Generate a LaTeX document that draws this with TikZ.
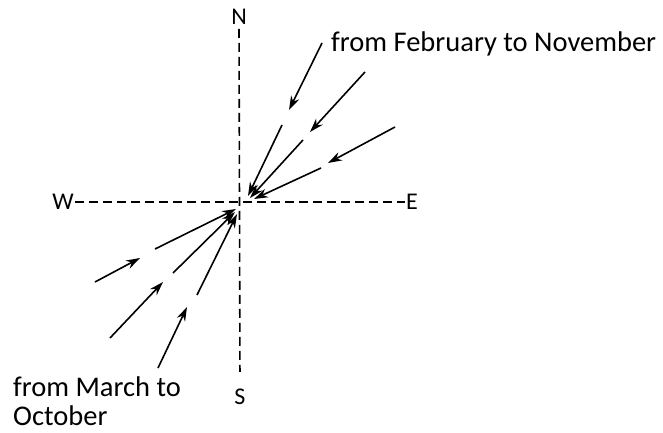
\documentclass[tikz,border=0pt]{standalone}
\usepackage{fontspec}
\setmainfont{Carlito}
\usetikzlibrary{arrows.meta}
\begin{document}
\begin{tikzpicture}[x=1pt,y=-1pt,
 compass/.style={font=\fontsize{24}{28}\selectfont, inner sep=1pt},
 lbl/.style={font=\fontsize{28.5}{29}\selectfont, inner sep=0pt, anchor=west, align=left},
 axis/.style={dash pattern=on 9pt off 5pt, line width=1.6pt},
 wind/.style={-{Stealth[length=14pt,width=9pt]}, line width=1.6pt}]
\useasboundingbox (0,0) rectangle (663,433);
% compass labels
\node[compass] (N) at (239,17) {N};
\node[compass] (S) at (240,397) {S};
\node[compass] (W) at (63,202) {W};
\node[compass] (E) at (412,202) {E};
% axes
\draw[axis, shorten <=3pt, shorten >=16pt] (N.south) -- (S.north);
\draw[axis] (W.east) -- (E.west);
% text labels
\node[lbl] (feb) at (331,44) {from February to November};
\node[lbl] (mar) at (13,401) {from March to\\October};
% upper right arrows
\coordinate (a1s) at (322,43); \coordinate (a1m) at (289,110);
\coordinate (a1r) at (282,125); \coordinate (a1e) at (248,196);
\coordinate (a2s) at (365,72); \coordinate (a2m) at (310,132);
\coordinate (a2r) at (303,140); \coordinate (a2e) at (250,198);
\coordinate (a3s) at (395,127); \coordinate (a3m) at (328,163);
\coordinate (a3r) at (321,168); \coordinate (a3e) at (254,199);
\draw[wind] (a1s) -- (a1m); \draw[wind] (a1r) -- (a1e);
\draw[wind] (a2s) -- (a2m); \draw[wind] (a2r) -- (a2e);
\draw[wind] (a3s) -- (a3m); \draw[wind] (a3r) -- (a3e);
% lower left arrows
\coordinate (b1s) at (95,282); \coordinate (b1m) at (140,258);
\coordinate (b1r) at (155,249); \coordinate (b1e) at (236,209);
\coordinate (b2s) at (110,338); \coordinate (b2m) at (163,282);
\coordinate (b2r) at (173,273); \coordinate (b2e) at (235,212);
\coordinate (b3s) at (158,368); \coordinate (b3m) at (187,307);
\coordinate (b3r) at (197,295); \coordinate (b3e) at (237,214);
\draw[wind] (b1s) -- (b1m); \draw[wind] (b1r) -- (b1e);
\draw[wind] (b2s) -- (b2m); \draw[wind] (b2r) -- (b2e);
\draw[wind] (b3s) -- (b3m); \draw[wind] (b3r) -- (b3e);
\end{tikzpicture}
\end{document}
